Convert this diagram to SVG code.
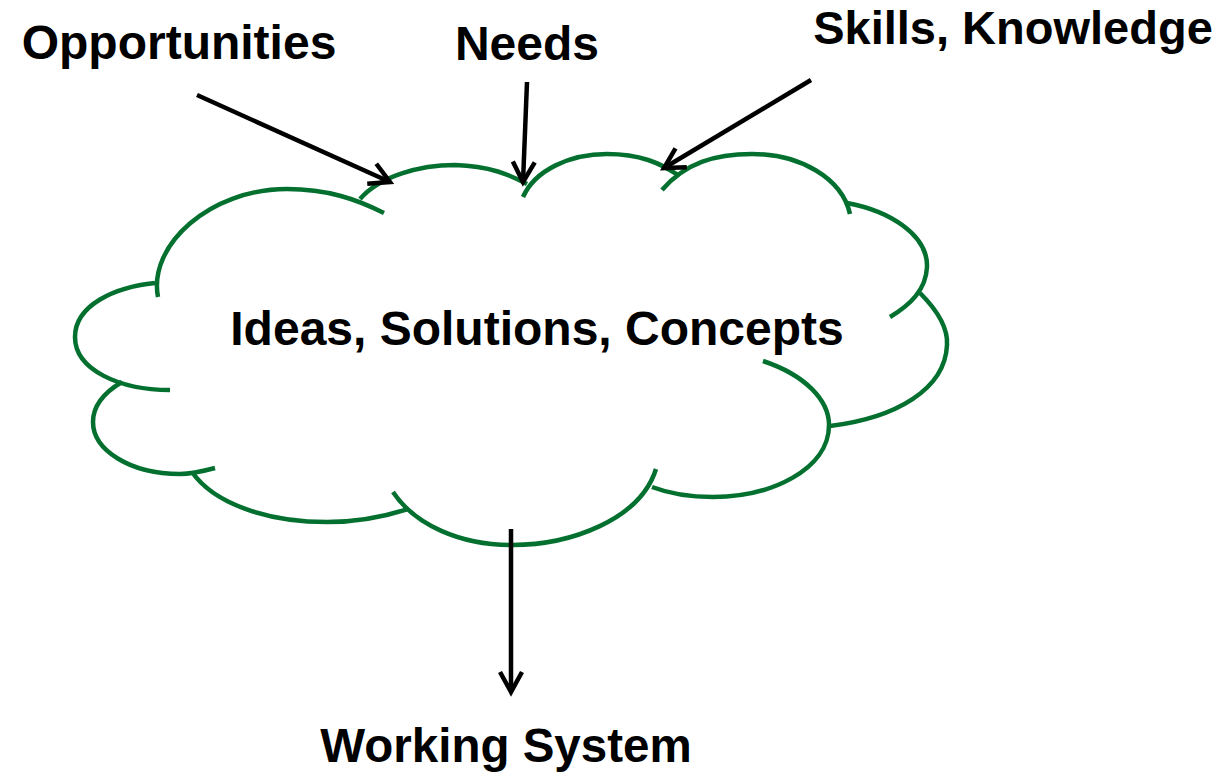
<svg xmlns="http://www.w3.org/2000/svg" width="1232" height="777" viewBox="0 0 1232 777">
  <style>
    .label { font-family: "Liberation Sans", Arial, sans-serif; font-weight: bold; fill: #000; text-anchor: middle; }
    .lobe { fill: none; stroke: #04702f; stroke-width: 4.5; stroke-linecap: butt; }
    .conn { fill: none; stroke: #000; stroke-width: 4.5; }
  </style>
  <defs>
    <marker id="arrow" markerUnits="userSpaceOnUse" markerWidth="30" markerHeight="30" viewBox="-24 -15 30 30" refX="0" refY="0" orient="auto">
      <path d="M-20,-11 L0,0 L-20,11" fill="none" stroke="#000" stroke-width="4.5"/>
    </marker>
  </defs>
  <rect width="1232" height="777" fill="#fff"/>

  <!-- cloud built from overlapping arc lobes -->
  <g id="cloud">
    <path class="lobe" d="M158,297 C148,245 210,189 287,189 C327,189 356,199 384,213"/>
    <path class="lobe" d="M360,199 C380,176 420,165 455,165 C490,166 510,175 527,184"/>
    <path class="lobe" d="M523,197 C535,170 570,154 607,154 C640,154 660,163 678,175"/>
    <path class="lobe" d="M662,190 C685,163 715,154 752,154 C800,154 842,178 850,214"/>
    <path class="lobe" d="M847,203 C890,211 928,235 927,267 C926,290 910,305 890,317"/>
    <path class="lobe" d="M920,293 C940,313 948,330 947,345 C945,390 895,418 830,426"/>
    <path class="lobe" d="M763,361 C805,375 829,400 829,425 C829,470 770,497 713,497 C685,497 665,492 652,487"/>
    <path class="lobe" d="M656,469 C640,520 570,545 512,545 C460,545 415,525 393,492"/>
    <path class="lobe" d="M408,509 C380,518 355,522 327,522 C270,522 215,505 192,472"/>
    <path class="lobe" d="M215,468 C200,472 190,474 180,474 C130,474 93,450 93,422 C93,405 105,392 122,382"/>
    <path class="lobe" d="M170,390 C120,390 75,370 75,337 C75,305 115,287 155,283"/>
    <text class="label" x="537" y="345" font-size="48">Ideas, Solutions, Concepts</text>
  </g>

  <g id="opportunities">
    <text class="label" x="179" y="59" font-size="48">Opportunities</text>
  </g>
  <g id="needs">
    <text class="label" x="527" y="60" font-size="48">Needs</text>
  </g>
  <g id="skills">
    <text class="label" x="1013" y="44" font-size="47">Skills, Knowledge</text>
  </g>
  <g id="working-system">
    <text class="label" x="506" y="762" font-size="47.5">Working System</text>
  </g>

  <g id="connectors">
    <line class="conn" x1="197" y1="95" x2="390" y2="182" marker-end="url(#arrow)"/>
    <line class="conn" x1="527" y1="82" x2="523" y2="182" marker-end="url(#arrow)"/>
    <line class="conn" x1="811" y1="80" x2="664" y2="168" marker-end="url(#arrow)"/>
    <line class="conn" x1="511" y1="529" x2="511" y2="692" marker-end="url(#arrow)"/>
  </g>
</svg>
